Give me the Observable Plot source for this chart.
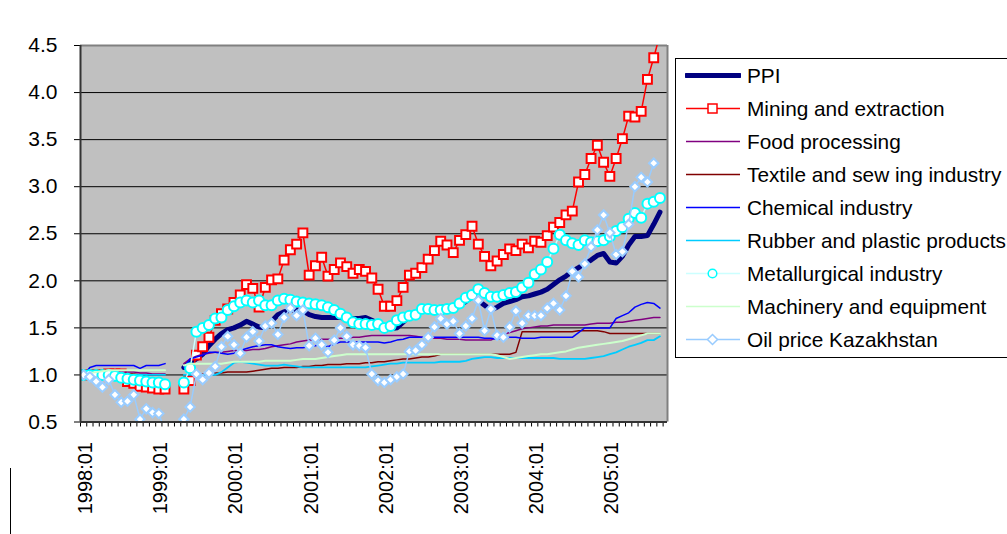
<!DOCTYPE html>
<html>
<head>
<meta charset="utf-8">
<script src="https://cdn.jsdelivr.net/npm/d3@7"></script>
<script src="https://cdn.jsdelivr.net/npm/@observablehq/plot@0.6"></script>
<style>
  body { margin:0; width:1007px; height:534px; overflow:hidden; position:relative; background:#fff;
         font-family: Arial, "Liberation Sans", sans-serif; }
  #chart { position:absolute; left:0; top:0; }
  #legend { position:absolute; left:675px; top:58px; width:420px; height:300px; border:1px solid #000;
            background:#fff; box-sizing:border-box; padding-left:9px; }
  .row { display:flex; align-items:center; height:33px; white-space:nowrap; }
  .row span { margin-left:6px; font-size:20.8px; color:#000; }
  #edge { position:absolute; left:10px; top:468px; width:1px; height:66px; background:#000; }
</style>
</head>
<body>
<div id="edge"></div>
<div id="chart"></div>
<div id="legend"></div>
<script>
// ---------- data (index 0 = 1998:01, monthly) ----------
const xLabels = ["1998:01","1999:01","2000:01","2001:01","2002:01","2003:01","2004:01","2005:01"];
const xLabelIdx = [0, 12, 24, 36, 48, 60, 72, 84];
const yTicks = [0.5, 1.0, 1.5, 2.0, 2.5, 3.0, 3.5, 4.0, 4.5];
const gridTicks = [1.0, 1.5, 2.0, 2.5, 3.0, 3.5, 4.0];

const ppi = [1.00,1.00,0.99,0.99,0.98,0.97,0.97,0.96,0.95,0.94,0.93,0.92,0.92,0.91, null,null,
 1.08,1.13,1.17,1.22,1.31,1.38,1.44,1.48,1.50,1.53,1.57,1.54,1.51,1.50,1.57,1.64,1.67,1.69,1.69,1.68,
 1.64,1.62,1.61,1.61,1.61,1.61,1.60,1.60,1.60,1.61,1.58,1.55,1.51,1.49,1.50,1.56,1.63,1.66,1.69,1.70,
 1.71,1.72,1.72,1.72,1.74,1.78,1.83,1.79,1.74,1.69,1.72,1.76,1.78,1.80,1.83,1.84,1.86,1.88,1.91,1.96,
 2.01,2.05,2.10,2.14,2.18,2.22,2.27,2.29,2.20,2.19,2.26,2.38,2.47,2.47,2.48,2.60,2.73];

const mining = [1.00,1.00,1.00,1.00,1.01,1.01,1.01,0.93,0.91,0.88,0.87,0.86,0.85,0.85, null,null,
 0.85,0.94,1.21,1.30,1.40,1.58,1.65,1.70,1.77,1.85,1.96,1.92,1.72,1.93,2.01,2.02,2.22,2.33,2.39,2.51,
 2.06,2.16,2.25,2.05,2.12,2.19,2.15,2.08,2.12,2.10,2.03,1.91,1.73,1.73,1.79,1.93,2.06,2.08,2.14,2.23,
 2.32,2.42,2.38,2.30,2.43,2.49,2.58,2.39,2.26,2.16,2.21,2.28,2.34,2.32,2.39,2.35,2.42,2.41,2.48,2.57,
 2.62,2.70,2.74,3.05,3.13,3.30,3.44,3.26,3.11,3.30,3.51,3.75,3.74,3.80,4.14,4.37,4.62];

const food = [1.00,1.01,1.02,1.02,1.02,1.03,1.03,1.03,1.03,1.02,1.02,1.01,1.01,1.01, null,null,
 1.12,1.17,1.20,1.22,1.23,1.24,1.24,1.25,1.26,1.26,1.26,1.27,1.27,1.28,1.30,1.31,1.32,1.33,1.35,1.36,
 1.37,1.37,1.38,1.38,1.38,1.39,1.39,1.40,1.40,1.41,1.42,1.42,1.42,1.42,1.42,1.42,1.42,1.41,1.40,1.40,
 1.39,1.39,1.38,1.38,1.38,1.37,1.37,1.37,1.37,1.37,1.40,1.43,1.45,1.47,1.49,1.50,1.51,1.52,1.52,1.53,
 1.53,1.53,1.53,1.53,1.53,1.54,1.55,1.55,1.55,1.56,1.56,1.57,1.58,1.59,1.60,1.61,1.61];

const textile = [1.00,1.00,1.00,1.01,1.01,1.01,1.01,1.01,1.01,1.00,1.00,1.00,1.00,1.00, null,null,
 0.99,1.00,1.00,1.01,1.01,1.02,1.02,1.03,1.03,1.03,1.03,1.04,1.05,1.06,1.07,1.07,1.08,1.08,1.08,1.09,
 1.09,1.10,1.10,1.11,1.11,1.11,1.12,1.12,1.12,1.13,1.13,1.14,1.14,1.15,1.16,1.17,1.17,1.18,1.19,1.19,
 1.20,1.22,1.22,1.22,1.22,1.22,1.22,1.22,1.22,1.22,1.22,1.22,1.22,1.24,1.46,1.46,1.46,1.46,1.46,1.46,
 1.46,1.46,1.46,1.47,1.47,1.47,1.47,1.46,1.44,1.44,1.44,1.44,1.44,1.44,1.44,1.44,1.44];

const chemical = [1.00,1.08,1.10,1.10,1.10,1.10,1.10,1.10,1.10,1.07,1.10,1.10,1.10,1.12, null,null,
 1.08,1.17,1.19,1.21,1.24,1.24,1.23,1.22,1.23,1.26,1.28,1.30,1.31,1.32,1.32,1.30,1.29,1.28,1.29,1.29,
 1.30,1.31,1.33,1.30,1.33,1.35,1.35,1.35,1.35,1.35,1.35,1.35,1.34,1.35,1.37,1.38,1.40,1.40,1.40,1.40,
 1.40,1.40,1.40,1.40,1.40,1.40,1.40,1.40,1.39,1.39,1.38,1.39,1.40,1.40,1.39,1.39,1.39,1.40,1.40,1.40,
 1.40,1.40,1.40,1.45,1.50,1.50,1.50,1.50,1.50,1.60,1.63,1.66,1.72,1.75,1.77,1.76,1.71];

const rubber = [1.00,1.00,1.00,1.00,1.00,1.00,1.00,1.00,1.00,1.00,1.00,1.00,1.00,1.00, null,null,
 1.00,1.00,1.00,1.00,1.00,1.00,1.03,1.08,1.13,1.14,1.13,1.12,1.11,1.10,1.10,1.10,1.11,1.10,1.09,1.08,
 1.08,1.08,1.08,1.08,1.08,1.08,1.08,1.08,1.08,1.08,1.09,1.10,1.11,1.12,1.12,1.13,1.13,1.13,1.13,1.13,
 1.13,1.14,1.14,1.14,1.14,1.15,1.17,1.18,1.19,1.19,1.18,1.18,1.18,1.18,1.18,1.18,1.18,1.18,1.18,1.18,
 1.17,1.17,1.17,1.17,1.17,1.18,1.19,1.20,1.22,1.24,1.27,1.30,1.32,1.34,1.37,1.37,1.41];

const metallurgical = [1.00,1.00,1.00,1.00,1.00,0.99,0.97,0.96,0.95,0.94,0.93,0.92,0.92,0.90, null,null,
 0.92,1.07,1.46,1.50,1.53,1.60,1.61,1.69,1.73,1.77,1.79,1.77,1.79,1.74,1.74,1.79,1.81,1.80,1.78,1.77,
 1.76,1.75,1.74,1.72,1.69,1.65,1.61,1.56,1.54,1.54,1.53,1.54,1.50,1.52,1.58,1.61,1.63,1.64,1.70,1.70,
 1.69,1.69,1.70,1.71,1.76,1.82,1.85,1.91,1.87,1.83,1.83,1.85,1.87,1.88,1.93,1.98,2.07,2.12,2.20,2.34,
 2.49,2.43,2.40,2.38,2.43,2.41,2.42,2.43,2.47,2.53,2.57,2.66,2.72,2.67,2.82,2.84,2.88];

const machinery = [1.00,1.02,1.03,1.04,1.05,1.05,1.05,1.05,1.05,1.05,1.05,1.05,1.05,1.05, null,null,
 1.10,1.12,1.12,1.12,1.12,1.12,1.12,1.13,1.14,1.14,1.14,1.14,1.14,1.15,1.15,1.15,1.15,1.15,1.16,1.17,
 1.17,1.17,1.18,1.19,1.20,1.21,1.22,1.22,1.22,1.22,1.22,1.22,1.22,1.22,1.22,1.22,1.22,1.22,1.22,1.22,
 1.22,1.22,1.22,1.22,1.22,1.22,1.22,1.22,1.22,1.22,1.21,1.19,1.17,1.18,1.19,1.20,1.21,1.22,1.22,1.23,
 1.24,1.25,1.27,1.29,1.30,1.31,1.32,1.33,1.34,1.35,1.36,1.38,1.40,1.42,1.44,1.44,1.44];

const oil = [1.00,0.98,0.93,0.87,0.95,0.79,0.71,0.72,0.79,0.53,0.64,0.60,0.59,0.40,0.38,0.42,
 0.53,0.66,1.01,0.95,1.02,1.09,1.30,1.41,1.32,1.23,1.40,1.46,1.36,1.52,1.55,1.43,1.61,1.71,1.63,1.69,
 1.31,1.39,1.32,1.24,1.37,1.50,1.41,1.32,1.31,1.29,1.01,0.94,0.92,0.95,0.98,1.01,1.25,1.26,1.32,1.40,
 1.51,1.60,1.54,1.57,1.44,1.52,1.60,1.79,1.47,1.70,1.42,1.40,1.51,1.68,1.55,1.63,1.63,1.63,1.71,1.76,
 1.69,1.84,2.10,2.04,2.18,2.36,2.54,2.70,2.51,2.28,2.31,2.60,3.00,3.10,3.05,3.25,null];

const seriesNames = ["PPI","Mining and extraction","Food processing","Textile and sew ing industry",
  "Chemical industry","Rubber and plastic products","Metallurgical industry","Machinery and equipment","Oil price Kazakhstan"];

// ---------- build ----------
const rows = arr => arr.map((v, i) => ({i, v}));
const X_MIN = -0.5, X_MAX = 93.2;
const boundaryTicks = d3.range(-0.5, 93, 1);
const labelRows = xLabelIdx.map((k, j) => ({i: k, y0: 0.5, t: xLabels[j]}));

const thin = (arr, color, w = 1.5, extra = {}) =>
  Plot.line(rows(arr), {x: "i", y: "v", stroke: color, strokeWidth: w, clip: true, ...extra});

const chart = Plot.plot({
  width: 1007,
  height: 534,
  marginLeft: 80,
  marginRight: 340,
  marginTop: 45,
  marginBottom: 112.5,
  style: {fontSize: "21px", fontFamily: "Arial, 'Liberation Sans', sans-serif", color: "#000", background: "transparent", overflow: "visible"},
  x: {domain: [X_MIN, X_MAX], ticks: boundaryTicks, tickFormat: () => "", tickSize: 5, tickPadding: 0, label: null},
  y: {domain: [0.5, 4.5], ticks: yTicks, tickFormat: d3.format(".1f"), tickSize: 6, tickPadding: 17, label: null},
  marks: [
    Plot.frame({fill: "#c0c0c0", stroke: null}),
    Plot.ruleY(gridTicks, {stroke: "#000", strokeWidth: 1}),
    Plot.ruleY([4.5], {stroke: "#808080", strokeWidth: 2}),
    Plot.ruleX([X_MAX], {stroke: "#808080", strokeWidth: 2}),
    thin(ppi, "#000080", 5, {strokeLinejoin: "round"}),
    thin(mining, "#FF0000", 1.5),
    Plot.dot(rows(mining), {x: "i", y: "v", symbol: "square", r: 5, stroke: "#FF0000", strokeWidth: 2, fill: "#fff", clip: true}),
    thin(food, "#800080", 1.5),
    thin(textile, "#800000", 1.5),
    thin(chemical, "#0000FF", 1.5),
    thin(rubber, "#00CCFF", 1.8),
    thin(metallurgical, "#CCFFFF", 1.5),
    Plot.dot(rows(metallurgical), {x: "i", y: "v", symbol: "circle", r: 5, stroke: "#00FFFF", strokeWidth: 2, fill: "#fff", clip: true}),
    thin(machinery, "#CCFFCC", 2),
    thin(oil, "#99CCFF", 1.5),
    Plot.dot(rows(oil), {x: "i", y: "v", symbol: "diamond2", r: 4.2, stroke: "#99CCFF", strokeWidth: 2, fill: "#fff", clip: true}),
    Plot.ruleX([X_MIN], {stroke: "#333", strokeWidth: 2}),
    Plot.ruleY([0.5], {stroke: "#333", strokeWidth: 2}),
    Plot.text(labelRows, {x: "i", y: "y0", text: "t", rotate: -90, textAnchor: "end", dy: 20, dx: 2, fontSize: 20, fill: "#000"})
  ]
});
document.getElementById("chart").appendChild(chart);

// ---------- legend ----------
const legendStyle = [
  {line: "#000080", w: 5},
  {line: "#FF0000", w: 1.5, sym: "square", ms: "#FF0000"},
  {line: "#800080", w: 1.5},
  {line: "#800000", w: 1.5},
  {line: "#0000FF", w: 1.5},
  {line: "#00CCFF", w: 1.5},
  {line: "#CCFFFF", w: 1.5, sym: "circle", ms: "#00FFFF"},
  {line: "#CCFFCC", w: 1.5},
  {line: "#99CCFF", w: 1.5, sym: "diamond", ms: "#99CCFF"}
];
const legend = document.getElementById("legend");
legend.innerHTML = seriesNames.map((name, k) => {
  const s = legendStyle[k];
  let m = "";
  if (s.sym === "square") m = `<rect x="23" y="12" width="9" height="9" fill="#fff" stroke="${s.ms}" stroke-width="1.5"/>`;
  if (s.sym === "circle") m = `<circle cx="27.5" cy="16.5" r="4.3" fill="#fff" stroke="${s.ms}" stroke-width="1.5"/>`;
  if (s.sym === "diamond") m = `<path d="M27.5,11.5L32.5,16.5L27.5,21.5L22.5,16.5Z" fill="#fff" stroke="${s.ms}" stroke-width="1.5"/>`;
  const cap = s.w > 3 ? "round" : "butt";
  return `<div class="row"><svg width="56" height="33"><line x1="1" x2="55" y1="16.5" y2="16.5" stroke="${s.line}" stroke-width="${s.w}" stroke-linecap="${cap}"/>${m}</svg><span>${name}</span></div>`;
}).join("");
</script>
</body>
</html>
